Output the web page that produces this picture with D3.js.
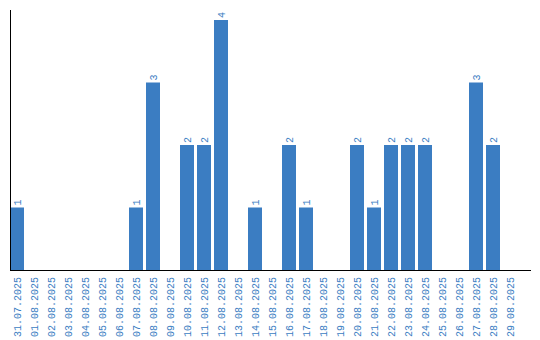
<!DOCTYPE html>
<html>
<head>
<meta charset="utf-8">
<script src="https://cdn.jsdelivr.net/npm/d3@7"></script>
<style>
  body { margin: 0; background: #fff; }
  text { font-family: "Liberation Mono", "DejaVu Sans Mono", monospace; font-size: 10px; fill: #3b7dc2; }
</style>
</head>
<body>
<div id="chart"></div>
<script>
// dates shown on the x axis
const dates = ["31.07.2025","01.08.2025","02.08.2025","03.08.2025","04.08.2025","05.08.2025",
  "06.08.2025","07.08.2025","08.08.2025","09.08.2025","10.08.2025","11.08.2025","12.08.2025",
  "13.08.2025","14.08.2025","15.08.2025","16.08.2025","17.08.2025","18.08.2025","19.08.2025",
  "20.08.2025","21.08.2025","22.08.2025","23.08.2025","24.08.2025","25.08.2025","26.08.2025",
  "27.08.2025","28.08.2025","29.08.2025"];
// count per day
const counts = [1,0,0,0,0,0,0,1,3,0,2,2,4,0,1,0,2,1,0,0,2,1,2,2,2,0,0,3,2,0];

const width = 540, height = 340;
const barColor = "#3b7dc2";

const svg = d3.select("#chart").append("svg")
    .attr("width", width)
    .attr("height", height);

// scales
const x = d3.scaleBand()
    .domain(dates)
    .range([8.5, 518.5])
    .paddingInner(3 / 17)
    .paddingOuter(1.5 / 17);

const y = d3.scaleLinear()
    .domain([0, 4])
    .range([270, 20]);

const data = dates.map((d, i) => ({ date: d, value: counts[i] }));

// bars
svg.selectAll(".bar")
    .data(data.filter(d => d.value > 0))
    .enter().append("rect")
    .attr("class", "bar")
    .attr("x", d => x(d.date))
    .attr("y", d => y(d.value))
    .attr("width", x.bandwidth())
    .attr("height", d => y(0) - y(d.value))
    .attr("fill", barColor);

// value labels
svg.selectAll(".val")
    .data(data.filter(d => d.value > 0))
    .enter().append("text")
    .attr("class", "val")
    .attr("transform", d => "translate(" + (x(d.date) + x.bandwidth() / 2 + 3.5) + "," + (y(d.value) - 2) + ") rotate(-90)")
    .attr("text-anchor", "start")
    .text(d => d.value);

// axes lines
svg.append("line")
    .attr("x1", 10.5).attr("x2", 10.5)
    .attr("y1", 10).attr("y2", 270)
    .attr("stroke", "#000");

svg.append("line")
    .attr("x1", 10).attr("x2", 531)
    .attr("y1", 270.5).attr("y2", 270.5)
    .attr("stroke", "#000");

// x tick labels
svg.selectAll(".xl")
    .data(dates)
    .enter().append("text")
    .attr("class", "xl")
    .attr("transform", d => "translate(" + (x(d) + x.bandwidth() / 2 + 3.5) + ",277) rotate(-90)")
    .attr("text-anchor", "end")
    .text(d => d);
</script>
</body>
</html>
